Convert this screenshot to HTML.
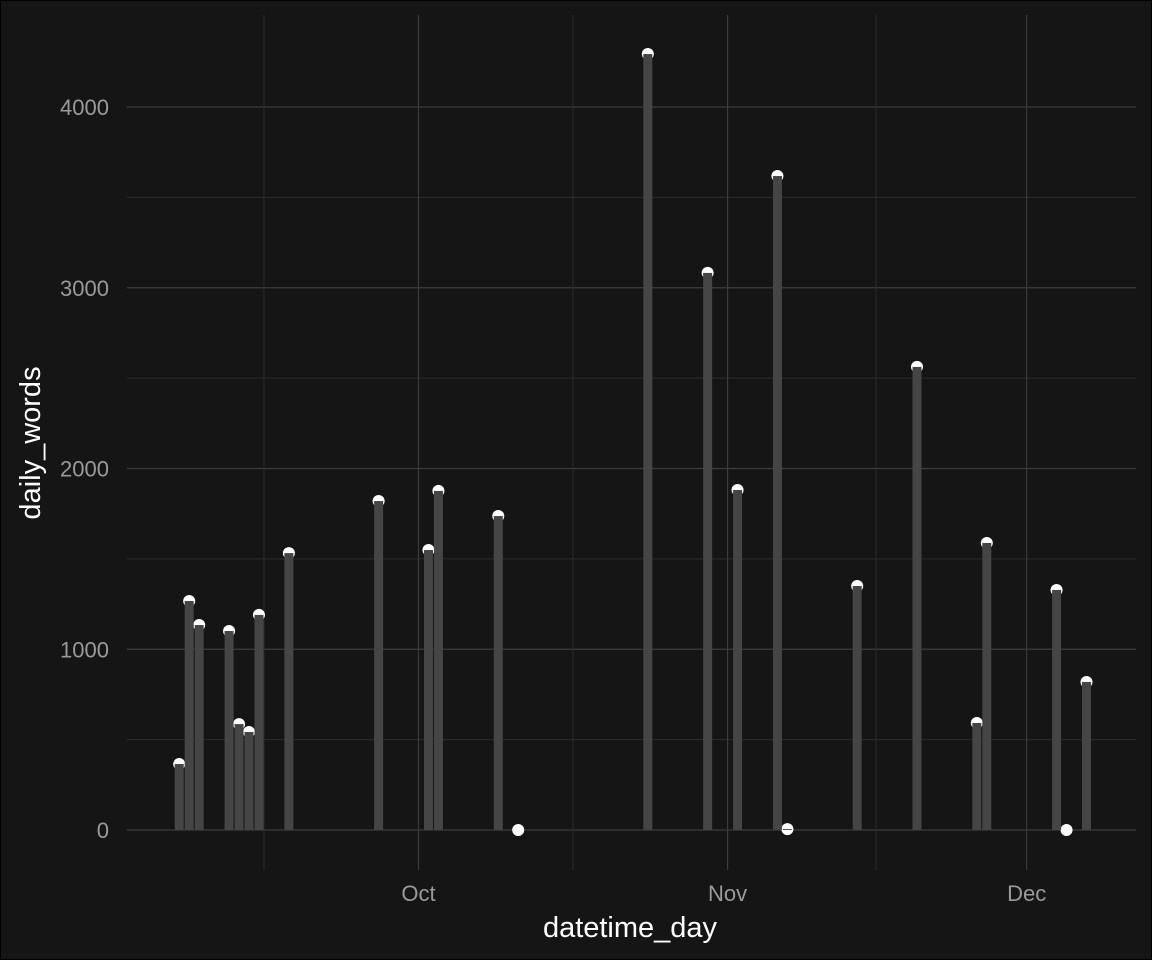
<!DOCTYPE html>
<html><head><meta charset="utf-8"><style>
html,body{margin:0;padding:0;background:#151515;}
svg{display:block;}
text{font-family:"Liberation Sans",sans-serif;}
</style></head><body>
<svg id="chart" width="1152" height="960">
<rect x="0.5" y="0.5" width="1151" height="959" fill="#151515" stroke="#000"/>
<g id="grid"></g><g id="marks"></g><g id="axes"></g>
<text x="630" y="937" fill="#ffffff" font-size="29" text-anchor="middle">datetime_day</text>
<text transform="translate(40,443) rotate(-90)" fill="#ffffff" font-size="29" text-anchor="middle">daily_words</text>
</svg>
<script>
const dates=["2023-09-07","2023-09-08","2023-09-09","2023-09-12","2023-09-13","2023-09-14","2023-09-15","2023-09-18","2023-09-27","2023-10-02","2023-10-03","2023-10-09","2023-10-11","2023-10-24","2023-10-30","2023-11-02","2023-11-06","2023-11-07","2023-11-14","2023-11-20","2023-11-26","2023-11-27","2023-12-04","2023-12-05","2023-12-07"];
const words=[365,1267,1134,1101,586,542,1190,1532,1820,1549,1876,1737,0,4293,3082,1881,3618,5,1350,2562,592,1588,1328,0,819];
const yTicks=[0,1000,2000,3000,4000];
const xTickLabels=["Oct","Nov","Dec"];
const xTickDates=["2023-10-01","2023-11-01","2023-12-01"];
const xMinorDays=[-15.5,15.5,45.9];
const NS="http://www.w3.org/2000/svg";
const d0=Date.UTC(2023,9,1);
function day(s){const p=s.split("-");return (Date.UTC(+p[0],+p[1]-1,+p[2])-d0)/864e5;}
function Xd(n){return 418.5+n*9.97;}
function X(s){return Xd(day(s));}
function Y(v){return 830-v*0.18075;}
const L=127,R=1136,T=15,B=870;
function el(tag,attrs,parent){const e=document.createElementNS(NS,tag);for(const k in attrs)e.setAttribute(k,attrs[k]);parent.appendChild(e);return e;}
const grid=document.getElementById("grid"),marks=document.getElementById("marks"),axes=document.getElementById("axes");
yTicks.forEach((v,i)=>{
 const g=el("line",{x1:L,x2:R,y1:Y(v),y2:Y(v),stroke:"#3c3c3c","stroke-width":1.2},grid);
 
 
 if(i<yTicks.length-1){const m=el("line",{x1:L,x2:R,y1:Y(v+500),y2:Y(v+500),stroke:"#2c2c2c","stroke-width":1},grid);
 
 }
 const t=el("text",{x:109,y:Y(v)+8,fill:"#9a9a9a","font-size":22,"text-anchor":"end"},axes);
 t.textContent=v;
 
 
});
xMinorDays.forEach(n=>{const m=el("line",{x1:Xd(n),x2:Xd(n),y1:T,y2:B,stroke:"#2c2c2c","stroke-width":1},grid);
 
 });
xTickDates.forEach((d,i)=>{
 const g=el("line",{x1:X(d),x2:X(d),y1:T,y2:B,stroke:"#3c3c3c","stroke-width":1.2},grid);
 
 
 const t=el("text",{x:X(d),y:901,fill:"#9a9a9a","font-size":22,"text-anchor":"middle"},axes);
 t.textContent=xTickLabels[i];
 
 
});
dates.forEach((d,i)=>{
 const c=el("circle",{cx:X(d),cy:Y(words[i]),r:6,fill:"#ffffff"},marks);
 
 
});
dates.forEach((d,i)=>{
 if(words[i]<=0)return;
 const b=el("rect",{x:X(d)-4.5,y:Y(words[i]),width:9,height:Y(0)-Y(words[i]),fill:"#454545"},marks);
 
 
});
</script>
</body></html>
